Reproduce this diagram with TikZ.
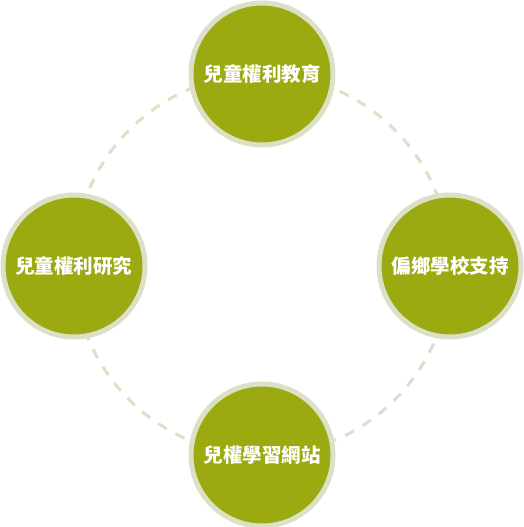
\documentclass[tikz,border=0pt]{standalone}
\usepackage{fontspec}
\usepackage{tikz}
\usetikzlibrary{backgrounds}
\newfontfamily\cjk{Noto Sans CJK TC}
\definecolor{olive}{RGB}{154,170,16}
\definecolor{ringgray}{RGB}{220,224,198}

\begin{document}
\begin{tikzpicture}[
    x=1pt, y=1pt,
    font=\cjk\bfseries\fontsize{19.5}{22}\selectfont,
    topic/.style={circle, draw=ringgray, line width=5pt, fill=olive, text=white, minimum size=142pt, inner sep=0pt},
    link/.style={draw=ringgray, line width=3pt, dash pattern=on 10pt off 10pt}
]
    \useasboundingbox (0,0) rectangle (523,527);

    \node[topic] (edu) at (262,453) {兒童權利教育};
    \node[topic] (school) at (450,261) {偏鄉學校支持};
    \node[topic] (web) at (262,72) {兒權學習網站};
    \node[topic] (res) at (74,261) {兒童權利研究};

    \begin{pgfonlayer}{background}
        \draw[link] (edu.center) to[bend left=45] (school.center);
        \draw[link] (school.center) to[bend left=45] (web.center);
        \draw[link] (web.center) to[bend left=45] (res.center);
        \draw[link] (res.center) to[bend left=45] (edu.center);
    \end{pgfonlayer}
\end{tikzpicture}
\end{document}
